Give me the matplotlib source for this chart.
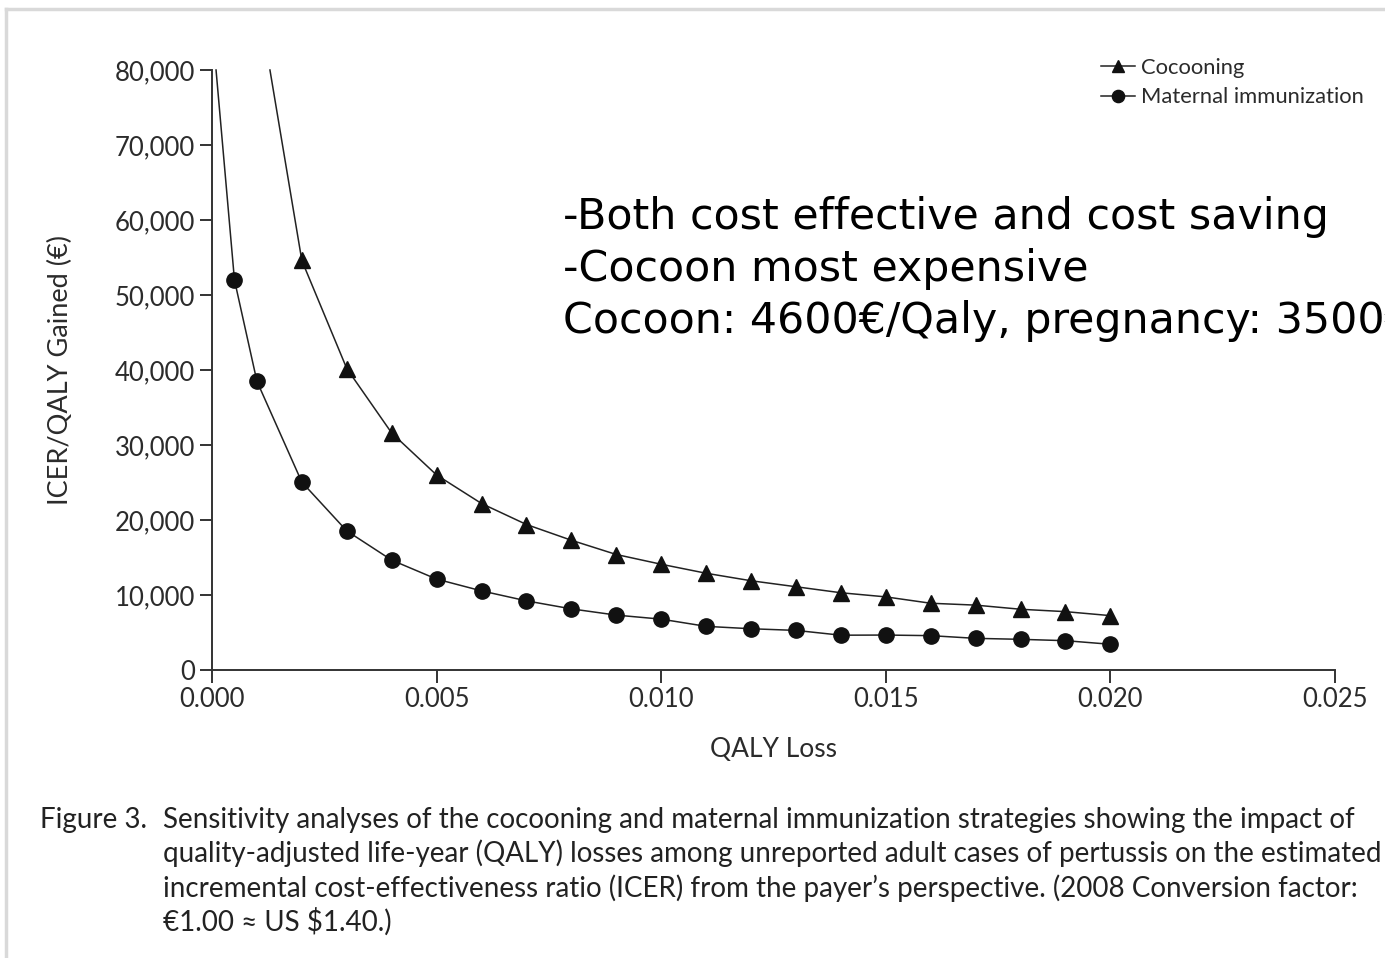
import matplotlib
matplotlib.use("Agg")
import matplotlib.pyplot as plt
from matplotlib.lines import Line2D
from matplotlib.ticker import FuncFormatter

# ---------------- data ----------------
qaly_loss = [0.002, 0.003, 0.004, 0.005, 0.006, 0.007, 0.008, 0.009, 0.010,
             0.011, 0.012, 0.013, 0.014, 0.015, 0.016, 0.017, 0.018, 0.019, 0.020]
cocooning_icer = [54600, 40200, 31600, 26000, 22200, 19400, 17300, 15400, 14100,
                  12900, 11900, 11100, 10300, 9750, 8900, 8650, 8100, 7780, 7250]
# curve continues (no marker) up to the top of the axis
cocooning_top_x = 0.00129
maternal_x = [0.0005, 0.001] + qaly_loss
maternal_icer = [52000, 38500, 25050, 18550, 14650, 12120, 10550, 9220, 8150, 7320, 6780,
                 5820, 5500, 5280, 4640, 4660, 4580, 4220, 4090, 3910, 3430]
maternal_top_x = 0.00009
top_value = 80000

x_ticks = [0.000, 0.005, 0.010, 0.015, 0.020, 0.025]
y_ticks = [0, 10000, 20000, 30000, 40000, 50000, 60000, 70000, 80000]

legend_labels = ["Cocooning", "Maternal immunization"]
x_label = "QALY Loss"
y_label = "ICER/QALY Gained (\u20ac)"
note_lines = ["-Both cost effective and cost saving",
              "-Cocoon most expensive",
              "Cocoon: 4600\u20ac/Qaly, pregnancy: 3500\u20ac/Qaly"]
caption_head = "Figure 3."
caption_lines = [
    "Sensitivity analyses of the cocooning and maternal immunization strategies showing the impact of",
    "quality-adjusted life-year (QALY) losses among unreported adult cases of pertussis on the estimated",
    "incremental cost-effectiveness ratio (ICER) from the payer\u2019s perspective. (2008 Conversion factor:",
    "\u20ac1.00 \u2248 US $1.40.)",
]

# ---------------- figure ----------------
W, H = 1385, 958
fig = plt.figure(figsize=(W / 100, H / 100), dpi=100)
fig.patch.set_facecolor("white")

# light grey frame (top and left edges visible)
fig.add_artist(Line2D([6 / W, 6 / W], [0, 1 - 9 / H], transform=fig.transFigure,
                      color="#d9d9d9", lw=2.5))
fig.add_artist(Line2D([6 / W, 1], [1 - 9 / H, 1 - 9 / H], transform=fig.transFigure,
                      color="#d9d9d9", lw=2.5))

ax = fig.add_axes([212 / W, 1 - 670 / H, (1335 - 212) / W, (670 - 70) / H])
ax.set_xlim(0, 0.025)
ax.set_ylim(0, 80000)

tick_font = "Lato"
txt_col = "#2b2b2b"

ax.plot([cocooning_top_x] + qaly_loss, [top_value] + cocooning_icer, color="#222222", lw=1.1,
        marker="^", markersize=11, markevery=list(range(1, len(qaly_loss) + 1)),
        markerfacecolor="#111111", markeredgecolor="#111111", clip_on=False,
        label=legend_labels[0])
ax.plot([maternal_top_x] + maternal_x, [top_value] + maternal_icer, color="#222222", lw=1.1,
        marker="o", markersize=11, markevery=list(range(1, len(maternal_x) + 1)),
        markerfacecolor="#111111", markeredgecolor="#111111", clip_on=False,
        label=legend_labels[1])

for s in ["top", "right"]:
    ax.spines[s].set_visible(False)
for s in ["left", "bottom"]:
    ax.spines[s].set_color("#333333")
    ax.spines[s].set_linewidth(1.4)

ax.set_xticks(x_ticks)
ax.set_yticks(y_ticks)
ax.xaxis.set_major_formatter(FuncFormatter(lambda v, p: f"{v:.3f}"))
ax.yaxis.set_major_formatter(FuncFormatter(lambda v, p: f"{int(round(v)):,}"))
ax.tick_params(axis="both", direction="out", length=9, width=1.4, color="#333333",
               labelsize=18.5, labelcolor=txt_col, pad=3)
for lab in ax.get_xticklabels() + ax.get_yticklabels():
    lab.set_fontfamily(tick_font)

ax.set_xlabel(x_label, fontsize=19, family=tick_font, color=txt_col, labelpad=18)
ax.set_ylabel(y_label, fontsize=19.5, family=tick_font, color=txt_col, labelpad=30)

leg = ax.legend(loc="upper right", bbox_to_anchor=(1364 / W, 1 - 58 / H),
                bbox_transform=fig.transFigure, frameon=False,
                markerscale=0.8, handlelength=1.55, handletextpad=0.3,
                labelspacing=0.42, borderpad=0, borderaxespad=0,
                prop={"family": tick_font, "size": 15.8})
for t in leg.get_texts():
    t.set_color(txt_col)

# overlay note (as in the reference, the last line runs past the right edge)
for i, line in enumerate(note_lines):
    fig.text(563 / W, 1 - (229 + 52 * i) / H, line, fontsize=30.8, family="DejaVu Sans",
             color="black", va="baseline", ha="left")

# caption
fig.text(40 / W, 1 - 828 / H, caption_head, fontsize=20, family=tick_font,
         color="#222222", va="baseline", ha="left")
for i, line in enumerate(caption_lines):
    fig.text(163 / W, 1 - (828 + 34.3 * i) / H, line, fontsize=20, family=tick_font,
             color="#222222", va="baseline", ha="left")

fig.savefig("out.png", dpi=100)
